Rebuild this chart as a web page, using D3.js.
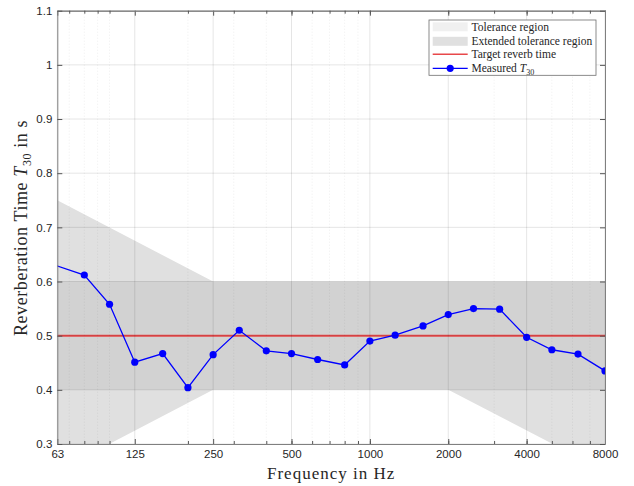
<!DOCTYPE html>
<html><head><meta charset="utf-8">
<script src="https://cdn.jsdelivr.net/npm/d3@7"></script>
<style>body{margin:0;background:#fff}svg{display:block}</style>
</head><body>
<svg id="c" width="634" height="486"></svg>
<script>
// ---- data ----
const bandFreqs = [50,80,100,125,160,200,250,315,400,500,630,800,1000,1250,1600,2000,2500,3150,4000,5000,6300,8000];
const measuredT30 = [0.645,0.612,0.558,0.451,0.467,0.404,0.465,0.510,0.472,0.467,0.456,0.446,0.490,0.501,0.518,0.539,0.550,0.549,0.497,0.474,0.466,0.435];
const extFreqs = [63,250,2000,8000];
const extUpper = [0.75,0.6,0.6,0.6];
const extLower = [0.25,0.4,0.4,0.25];
const tolFreqs = [63,8000];
const tolUpper = [0.6,0.6];
const tolLower = [0.4,0.4];
const targetT = 0.5;
const xTicks = [63,125,250,500,1000,2000,4000,8000];
const xMinor = [70,80,90,100,200,300,400,500,600,700,800,900,1000,2000,3000,4000,5000,6000,7000,8000];
const yTicks = [0.3,0.4,0.5,0.6,0.7,0.8,0.9,1.0,1.1];
const legendLabels = ["Tolerance region","Extended tolerance region","Target reverb time","Measured "];

const svg = d3.select("#c");
const L=57.3, R=605, T=10.7, B=444;
const x = d3.scaleLog().domain([63,8000]).range([L,R]);
const y = d3.scaleLinear().domain([0.3,1.1]).range([B,T]);

svg.append("defs").append("clipPath").attr("id","clip")
  .append("rect").attr("x",L).attr("y",T).attr("width",R-L).attr("height",B-T);
const plot = svg.append("g").attr("clip-path","url(#clip)");

// extended tolerance region
const extPts = extFreqs.map((f,i)=>[x(f),y(extUpper[i])])
  .concat(extFreqs.map((f,i)=>[x(f),y(extLower[i])]).reverse());
plot.append("path").attr("d",d3.line()(extPts)+"Z").attr("fill","#e0e0e0");
// tolerance region
const tolPts = tolFreqs.map((f,i)=>[x(f),y(tolUpper[i])])
  .concat(tolFreqs.map((f,i)=>[x(f),y(tolLower[i])]).reverse());
plot.append("path").attr("d",d3.line()(tolPts)+"Z").attr("fill","#000").attr("fill-opacity",0.06);

// grid
const grid = svg.append("g");
xMinor.filter(f=>!xTicks.includes(f)).forEach(f=>{
  grid.append("line").attr("x1",x(f)).attr("x2",x(f)).attr("y1",T).attr("y2",B)
    .attr("stroke","#000").attr("stroke-opacity",0.12).attr("stroke-width",0.6).attr("stroke-dasharray","1,2");
});
xTicks.forEach(f=>{
  grid.append("line").attr("x1",x(f)).attr("x2",x(f)).attr("y1",T).attr("y2",B)
    .attr("stroke","#000").attr("stroke-opacity",0.1).attr("stroke-width",1);
});
yTicks.forEach(v=>{
  grid.append("line").attr("x1",L).attr("x2",R).attr("y1",y(v)).attr("y2",y(v))
    .attr("stroke","#000").attr("stroke-opacity",0.1).attr("stroke-width",1);
});

// target line
plot.append("line").attr("x1",x(63)).attr("x2",x(8000)).attr("y1",y(targetT)).attr("y2",y(targetT))
  .attr("stroke","#e8484a").attr("stroke-width",2);

// measured
const line = d3.line().x((d,i)=>x(bandFreqs[i])).y(d=>y(d));
plot.append("path").attr("d",line(measuredT30)).attr("fill","none").attr("stroke","#0000ff").attr("stroke-width",1.3);
plot.selectAll("circle.m").data(measuredT30).enter().append("circle")
  .attr("cx",(d,i)=>x(bandFreqs[i])).attr("cy",d=>y(d)).attr("r",3.6).attr("fill","#0000ff");

// axes
const axisColor="#808080";
const xAxisB = d3.axisBottom(x).tickValues(xTicks).tickFormat(d3.format("d")).tickSizeInner(-5).tickSizeOuter(0).tickPadding(6);
const gxb = svg.append("g").attr("transform",`translate(0,${B})`).call(xAxisB);
const gxt = svg.append("g").attr("transform",`translate(0,${T})`).call(d3.axisTop(x).tickValues(xTicks).tickFormat("").tickSizeInner(-5).tickSizeOuter(0));
const gxbm = svg.append("g").attr("transform",`translate(0,${B})`).call(d3.axisBottom(x).tickValues(xMinor).tickFormat("").tickSizeInner(-3).tickSizeOuter(0));
const gxtm = svg.append("g").attr("transform",`translate(0,${T})`).call(d3.axisTop(x).tickValues(xMinor).tickFormat("").tickSizeInner(-3).tickSizeOuter(0));
const gyl = svg.append("g").attr("transform",`translate(${L},0)`).call(d3.axisLeft(y).tickValues(yTicks).tickFormat(d=>d3.format("")(+d.toFixed(1))).tickSizeInner(-5).tickSizeOuter(0).tickPadding(5));
const gyr = svg.append("g").attr("transform",`translate(${R},0)`).call(d3.axisRight(y).tickValues(yTicks).tickFormat("").tickSizeInner(-5).tickSizeOuter(0));
[gxb,gxt,gxbm,gxtm,gyl,gyr].forEach(g=>{
  g.select(".domain").attr("stroke",axisColor);
  g.selectAll(".tick line").attr("stroke","#555");
  g.selectAll("text").attr("fill","#262626").style("font-family","'Liberation Sans',Arial,sans-serif").style("font-size","11.5px");
});

// axis labels
const serif = "'Liberation Serif','Times New Roman',serif";
svg.append("text").attr("x",(L+R)/2).attr("y",478.5).attr("text-anchor","middle")
  .style("font-family",serif).style("font-size","17px").style("letter-spacing","1px").attr("fill","#262626").text("Frequency in Hz");
const yl = svg.append("text").attr("transform",`translate(27,228) rotate(-90)`).attr("text-anchor","middle")
  .style("font-family",serif).style("font-size","18px").style("letter-spacing","0.6px").attr("fill","#262626");
yl.append("tspan").text("Reverberation Time ");
yl.append("tspan").style("font-style","italic").text("T");
yl.append("tspan").attr("dy",3.5).style("font-size","12px").text("30");
yl.append("tspan").attr("dy",-3.5).text(" in s");

// legend
const lg = svg.append("g");
lg.append("rect").attr("x",429).attr("y",20).attr("width",167).attr("height",55.3)
  .attr("fill","#fff").attr("stroke","#6e6e6e").attr("stroke-width",0.8);
const rows=[26.8,41.3,54.2,68.3];
lg.append("rect").attr("x",432.7).attr("y",rows[0]-4.5).attr("width",35).attr("height",9).attr("fill","#000").attr("fill-opacity",0.06);
lg.append("rect").attr("x",432.7).attr("y",rows[1]-4.5).attr("width",35).attr("height",9).attr("fill","#e0e0e0");
lg.append("line").attr("x1",432.7).attr("x2",467.7).attr("y1",rows[2]).attr("y2",rows[2]).attr("stroke","#e8484a").attr("stroke-width",1.5);
lg.append("line").attr("x1",432.7).attr("x2",467.7).attr("y1",rows[3]).attr("y2",rows[3]).attr("stroke","#0000ff").attr("stroke-width",1.3);
lg.append("circle").attr("cx",450.2).attr("cy",rows[3]).attr("r",3.6).attr("fill","#0000ff");
legendLabels.forEach((t,i)=>{
  const tx = lg.append("text").attr("x",471.5).attr("y",rows[i]+4).style("font-family",serif).style("font-size","11.5px").attr("fill","#262626");
  tx.append("tspan").text(t);
  if(i===3){
    tx.append("tspan").style("font-style","italic").text("T");
    tx.append("tspan").attr("dy",2.5).style("font-size","8px").text("30");
  }
});
</script>
</body></html>
